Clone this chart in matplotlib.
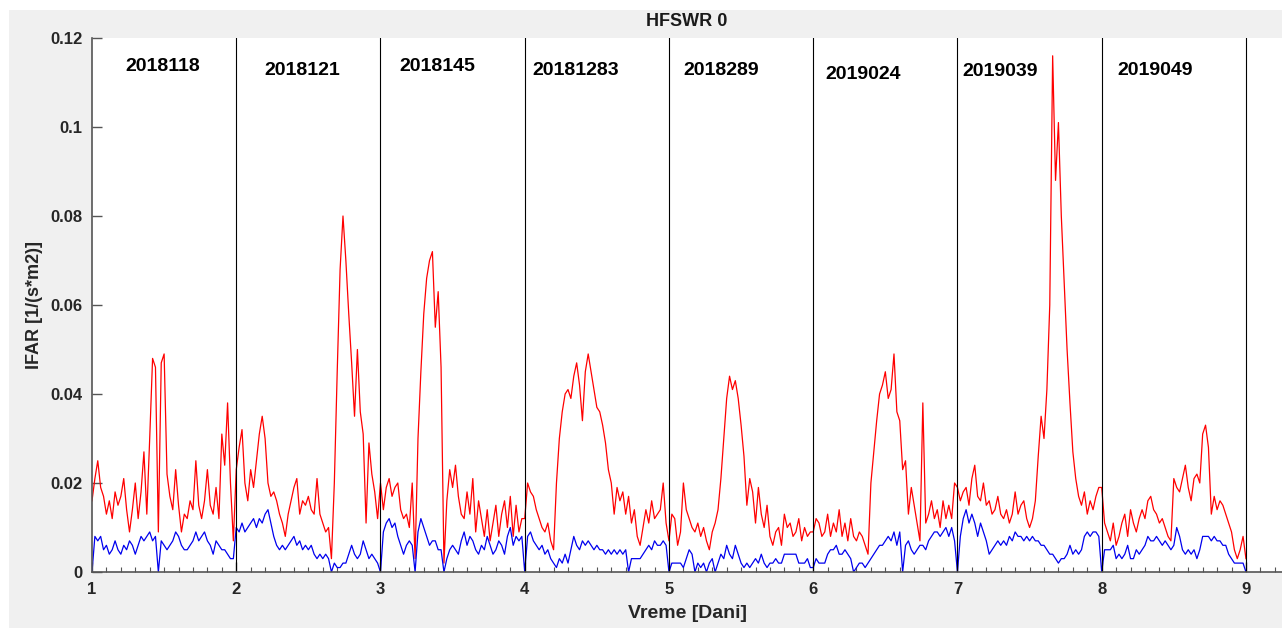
import numpy as np
import matplotlib.pyplot as plt
from matplotlib.patches import Rectangle

plt.rcParams["font.family"] = ["Liberation Sans", "DejaVu Sans"]
plt.rcParams["font.weight"] = "bold"

days = [1, 2, 3, 4, 5, 6, 7, 8]
day_labels = ["2018118", "2018121", "2018145", "20181283",
              "2018289", "2019024", "2019039", "2019049"]

red_d1 = [.016, .021, .025, .019, .017, .013, .016, .012, .018, .015,
          .017, .021, .014, .009, .014, .020, .012, .018, .027, .013,
          .030, .048, .046, .009, .047, .049, .022, .017, .014, .023,
          .015, .009, .013, .012, .016, .014, .025, .015, .012, .016,
          .023, .015, .013, .019, .012, .031, .024, .038, .020, .007]
red_d2 = [.023, .028, .032, .020, .016, .023, .019, .025, .031, .035,
          .030, .020, .017, .018, .016, .013, .011, .008, .013, .016,
          .019, .021, .013, .016, .015, .017, .014, .013, .021, .013,
          .011, .009, .010, .003, .020, .045, .068, .080, .070, .058,
          .047, .035, .050, .036, .031, .011, .029, .022, .018, .012]
red_d3 = [.020, .014, .019, .021, .017, .019, .020, .014, .012, .013,
          .010, .020, .003, .030, .045, .058, .066, .070, .072, .055,
          .063, .046, .002, .016, .023, .019, .024, .017, .013, .012,
          .018, .013, .021, .009, .016, .012, .008, .014, .007, .011,
          .015, .008, .013, .016, .010, .017, .008, .015, .009, .012]
red_d4 = [.012, .020, .018, .017, .014, .012, .010, .009, .011, .007,
          .005, .020, .030, .036, .040, .041, .039, .044, .047, .042,
          .034, .045, .049, .045, .041, .037, .036, .033, .029, .023,
          .020, .013, .019, .016, .018, .013, .017, .011, .014, .008,
          .006, .010, .014, .011, .016, .012, .013, .014, .020, .011]
red_d5 = [.007, .013, .012, .006, .009, .020, .014, .012, .010, .009,
          .011, .008, .010, .007, .005, .009, .011, .014, .021, .030,
          .039, .044, .041, .043, .039, .033, .026, .015, .021, .018,
          .011, .019, .013, .010, .015, .008, .006, .009, .010, .006,
          .013, .010, .011, .008, .009, .012, .007, .010, .008, .009]
red_d6 = [.009, .012, .011, .008, .009, .013, .008, .011, .009, .014,
          .008, .011, .007, .012, .008, .007, .009, .008, .006, .004,
          .020, .027, .034, .040, .042, .045, .039, .041, .049, .036,
          .034, .023, .025, .013, .019, .015, .011, .007, .038, .011,
          .013, .016, .012, .014, .010, .016, .012, .015, .012, .020]
red_d7 = [.019, .016, .018, .019, .015, .021, .024, .017, .016, .020,
          .015, .016, .013, .014, .017, .013, .012, .014, .011, .013,
          .018, .013, .015, .016, .012, .010, .012, .016, .026, .035,
          .030, .041, .060, .116, .088, .101, .080, .065, .050, .038,
          .027, .021, .017, .015, .018, .013, .016, .014, .017, .019]
red_d8 = [.019, .011, .009, .007, .011, .006, .008, .011, .013, .008,
          .014, .011, .009, .012, .014, .012, .016, .017, .014, .013,
          .011, .012, .010, .008, .007, .021, .019, .018, .021, .024,
          .019, .016, .021, .022, .020, .031, .033, .028, .013, .017,
          .014, .016, .015, .013, .011, .009, .005, .003, .005, .008]
red_end = 0.003

blue_d1 = [.000, .008, .007, .008, .005, .006, .004, .005, .007, .005,
           .004, .006, .005, .007, .006, .004, .006, .008, .007, .008,
           .009, .007, .008, .000, .007, .006, .005, .006, .007, .009,
           .008, .006, .005, .005, .006, .007, .009, .007, .008, .009,
           .007, .006, .004, .007, .006, .005, .005, .004, .003, .003]
blue_d2 = [.010, .009, .011, .009, .010, .011, .012, .010, .012, .011,
           .013, .014, .011, .008, .006, .005, .006, .005, .006, .007,
           .008, .006, .007, .005, .006, .005, .006, .004, .003, .004,
           .003, .004, .003, .000, .002, .001, .001, .002, .002, .004,
           .006, .004, .003, .004, .007, .005, .003, .004, .003, .002]
blue_d3 = [.000, .009, .011, .012, .010, .011, .008, .006, .004, .006,
           .007, .006, .000, .009, .012, .010, .008, .006, .007, .007,
           .005, .005, .000, .003, .005, .006, .005, .004, .007, .009,
           .006, .008, .007, .005, .004, .006, .005, .008, .006, .004,
           .005, .007, .006, .004, .008, .010, .006, .008, .007, .008]
blue_d4 = [.000, .008, .009, .007, .006, .005, .006, .004, .005, .003,
           .002, .001, .003, .002, .004, .002, .005, .008, .006, .005,
           .007, .006, .007, .006, .005, .006, .005, .005, .004, .005,
           .004, .005, .004, .005, .004, .005, .000, .003, .003, .003,
           .003, .004, .005, .006, .005, .007, .006, .006, .007, .006]
blue_d5 = [.000, .002, .002, .002, .002, .001, .003, .005, .004, .000,
           .002, .001, .002, .000, .002, .003, .000, .002, .004, .003,
           .006, .004, .003, .006, .004, .002, .001, .002, .001, .002,
           .003, .002, .004, .002, .001, .002, .002, .003, .002, .002,
           .004, .004, .004, .004, .004, .002, .002, .002, .003, .001]
blue_d6 = [.001, .003, .002, .002, .002, .004, .005, .005, .006, .004,
           .004, .005, .004, .003, .000, .001, .002, .002, .001, .002,
           .003, .004, .005, .006, .006, .007, .008, .007, .009, .006,
           .009, .000, .006, .007, .005, .004, .005, .006, .006, .005,
           .007, .008, .009, .009, .008, .009, .010, .008, .010, .007]
blue_d7 = [.000, .008, .012, .014, .011, .013, .011, .008, .011, .009,
           .007, .004, .005, .006, .007, .006, .007, .006, .008, .007,
           .009, .008, .008, .007, .008, .007, .008, .007, .007, .006,
           .006, .005, .004, .004, .003, .002, .003, .003, .004, .006,
           .004, .005, .004, .005, .008, .009, .008, .009, .009, .008]
blue_d8 = [.000, .005, .005, .005, .006, .003, .004, .003, .004, .006,
           .003, .003, .005, .004, .005, .006, .008, .007, .007, .008,
           .007, .006, .007, .006, .005, .006, .010, .008, .005, .004,
           .005, .004, .005, .003, .005, .008, .008, .008, .007, .008,
           .007, .007, .006, .006, .004, .003, .002, .002, .002, .002]
blue_end = 0.0

red_days = [red_d1, red_d2, red_d3, red_d4, red_d5, red_d6, red_d7, red_d8]
blue_days = [blue_d1, blue_d2, blue_d3, blue_d4, blue_d5, blue_d6, blue_d7, blue_d8]


def day_series(day_lists, end_value):
    # each list covers one day, samples evenly spread over [d, d+1)
    xs, ys = [], []
    for d, vals in zip(days, day_lists):
        n = len(vals)
        xs.extend(d + np.arange(n) / n)
        ys.extend(vals)
    xs.append(days[-1] + 1)
    ys.append(end_value)
    return np.array(xs), np.array(ys)


x_red, y_red = day_series(red_days, red_end)
x_blue, y_blue = day_series(blue_days, blue_end)

fig = plt.figure(figsize=(12.82, 6.28), dpi=100)
fig.patch.set_facecolor("white")
# grey window background, leaving the thin white border of the screenshot
fig.add_artist(Rectangle((9 / 1282, 0), 1, 1 - 10 / 628, transform=fig.transFigure,
                         facecolor="#f0f0f0", edgecolor="none", zorder=-10))

ax = fig.add_axes([92 / 1282, 1 - 572 / 628, 1 - 92 / 1282, (572 - 38) / 628])
ax.set_zorder(1)
ax.set_facecolor("white")

ax.plot(x_red, y_red, color="#ff0000", lw=0.9)
ax.plot(x_blue, y_blue, color="#0000ee", lw=0.9)

# day separators
for d in days[1:] + [days[-1] + 1]:
    ax.plot([d, d], [0, 0.12], color="black", lw=0.8)

label_off = [0.229, 0.194, 0.13, 0.055, 0.10, 0.083, 0.035, 0.11]
label_y = [0.1137, 0.1128, 0.1135, 0.1128, 0.1128, 0.1119, 0.1124, 0.1128]
for d, lab, off, yy in zip(days, day_labels, label_off, label_y):
    ax.text(d + off, yy, lab, fontsize=14, fontweight="bold", ha="left", va="center")

ax.set_xlim(1, 9.25)
ax.set_ylim(0, 0.12)
ax.set_xticks(range(1, 10))
ax.set_xticklabels([str(i) for i in range(1, 10)])
ax.set_xticks(np.arange(1, 9.25, 0.1), minor=True)
ax.set_yticks([0, 0.02, 0.04, 0.06, 0.08, 0.1, 0.12])
ax.set_yticklabels(["0", "0.02", "0.04", "0.06", "0.08", "0.1", "0.12"])

for s in ["top", "right"]:
    ax.spines[s].set_visible(False)
for s in ["left", "bottom"]:
    ax.spines[s].set_color("#555555")
    ax.spines[s].set_linewidth(1.2)

ax.tick_params(axis="both", which="major", direction="in", length=7, width=1,
               color="#555555", labelsize=12, labelcolor="#262626", pad=7)
ax.tick_params(axis="x", which="minor", direction="in", length=3.5, width=0.8, color="#555555")
ax.tick_params(axis="y", which="minor", left=False)
for lab in ax.get_xticklabels() + ax.get_yticklabels():
    lab.set_fontweight("bold")

ax.set_title("HFSWR 0", fontsize=13, fontweight="bold", pad=9, color="#1a1a1a")
ax.set_xlabel("Vreme [Dani]", fontsize=14, fontweight="bold", labelpad=6, color="#262626")
ax.set_ylabel("IFAR [1/(s*m2)]", fontsize=13, fontweight="bold", labelpad=5, color="#262626")

fig.savefig("out.png", dpi=100)
